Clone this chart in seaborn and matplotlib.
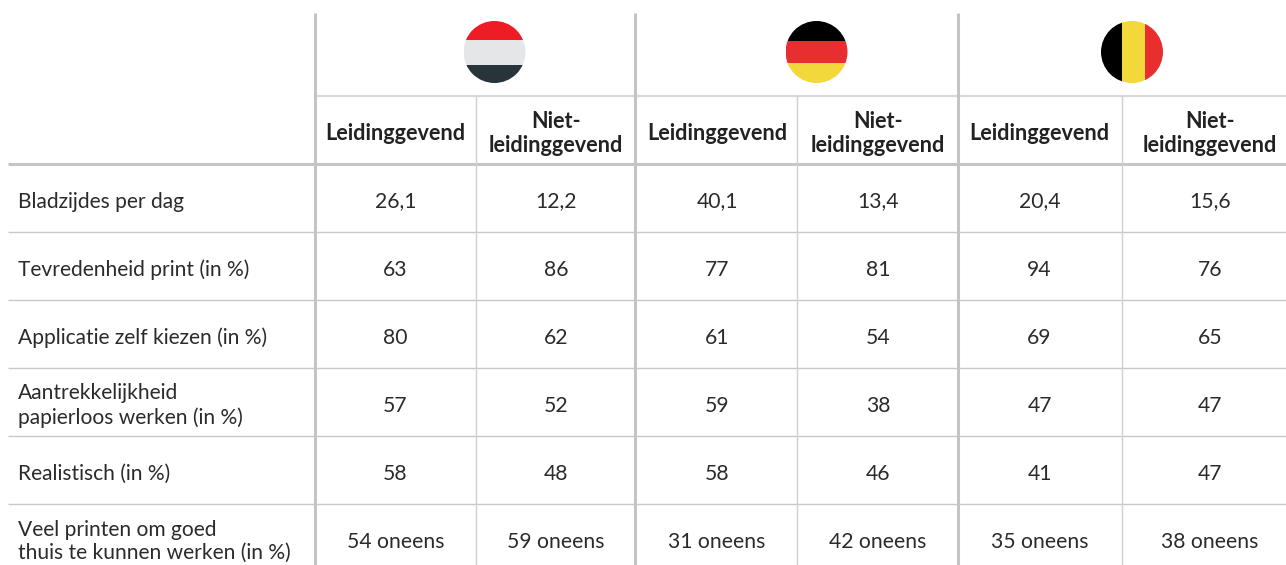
import matplotlib
matplotlib.use("Agg")
import matplotlib.pyplot as plt
from matplotlib.patches import Circle, Rectangle
import seaborn as sns

row_labels = ["Bladzijdes per dag", "Tevredenheid print (in %)", "Applicatie zelf kiezen (in %)",
              "Aantrekkelijkheid\npapierloos werken (in %)", "Realistisch (in %)",
              "Veel printen om goed\nthuis te kunnen werken (in %)"]
col_labels = ["Leidinggevend", "Niet-\nleidinggevend"] * 3
nl_leiding = ["26,1", "63", "80", "57", "58", "54 oneens"]
nl_niet = ["12,2", "86", "62", "52", "48", "59 oneens"]
de_leiding = ["40,1", "77", "61", "59", "58", "31 oneens"]
de_niet = ["13,4", "81", "54", "38", "46", "42 oneens"]
be_leiding = ["20,4", "94", "69", "47", "41", "35 oneens"]
be_niet = ["15,6", "76", "65", "47", "47", "38 oneens"]
columns = [nl_leiding, nl_niet, de_leiding, de_niet, be_leiding, be_niet]

sns.set_theme(style="white")
plt.rcParams['font.family'] = ['Lato', 'DejaVu Sans']
W, H = 1286, 565
fig = plt.figure(figsize=(W / 100, H / 100), dpi=100, facecolor="white")
ax = fig.add_axes([0, 0, 1, 1])
ax.set_xlim(0, W)
ax.set_ylim(H, 0)
ax.axis("off")

TXT = "#2b2b2b"
GRID = "#c8c8c8"
col_centers = [395.5, 556, 717, 878, 1039.5, 1210]
row_centers = [201.5, 269.5, 337.5, 405.5, 473.5, 541.5]
thick_x = [314.5, 634.5, 957.5]
thin_x = [476, 797, 1122]
row_lines = [232, 300, 368, 436, 504]

for y in row_lines:
    ax.plot([8, W], [y, y], color=GRID, lw=1.0, solid_capstyle="butt")
ax.plot([8, W], [164, 164], color="#c6c6c6", lw=2.2, solid_capstyle="butt")
ax.plot([315, W], [96, 96], color="#d9d9d9", lw=1.6, solid_capstyle="butt")
for x in thin_x:
    ax.plot([x, x], [96, H], color="#d0d0d0", lw=1.0, solid_capstyle="butt")
for x in thick_x:
    ax.plot([x, x], [13, H], color="#c4c4c6", lw=2.2, solid_capstyle="butt")

for lab, y in zip(row_labels, row_centers):
    ax.text(18, y, lab, ha="left", va="center", fontsize=15.1, color=TXT, linespacing=1.22)
for lab, x in zip(col_labels, col_centers):
    ax.text(x, 133.5, lab, ha="center", va="center", fontsize=15.6, fontweight="bold",
            color="#222222", linespacing=1.18)
for vals, x in zip(columns, col_centers):
    for v, y in zip(vals, row_centers):
        ax.text(x, y, v, ha="center", va="center", fontsize=15.2, color=TXT)

def flag(cx, cy, r, bands, horizontal=True):
    clip = Circle((cx, cy), r, transform=ax.transData)
    for start, end, c in bands:
        if horizontal:
            p = Rectangle((cx - r, cy - r + start * 2 * r), 2 * r, (end - start) * 2 * r, fc=c, ec="none")
        else:
            p = Rectangle((cx - r + start * 2 * r, cy - r), (end - start) * 2 * r, 2 * r, fc=c, ec="none")
        ax.add_patch(p)
        p.set_clip_path(clip)

flag(494.5, 52, 31, [(0, .306, "#ee1c25"), (.306, .71, "#e5e6e8"), (.71, 1, "#29333a")])
flag(816.5, 52, 31, [(0, .33, "#000000"), (.33, .67, "#e92e30"), (.67, 1, "#f2d83b")])
flag(1132, 52, 31, [(0, .34, "#000000"), (.34, .71, "#f2d83b"), (.71, 1, "#e92e30")], horizontal=False)

fig.savefig("out.png", dpi=100, facecolor="white")
